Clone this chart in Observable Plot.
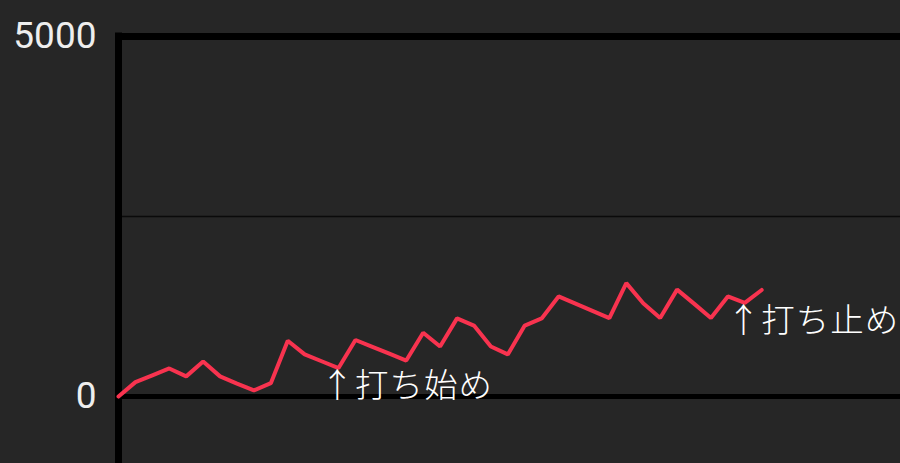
<!DOCTYPE html>
<html>
<head>
<meta charset="utf-8">
<script src="https://cdn.jsdelivr.net/npm/d3@7"></script>
<script src="https://cdn.jsdelivr.net/npm/@observablehq/plot@0.6"></script>
<style>
  html, body { margin: 0; padding: 0; background: #262626; }
  #chart { width: 900px; height: 463px; overflow: hidden; }
  g[aria-label="text"] text { letter-spacing: 1px; }
</style>
</head>
<body>
<div id="chart"></div>
<script>
// Series values (one per step)
const values = [0, 200, 295, 390, 280, 485, 280, 180, 85, 185,
  775, 585, 490, 395, 785, 690, 595, 500, 885, 695,
  1085, 985, 695, 585, 985, 1085, 1390, 1290, 1190, 1090,
  1575, 1295, 1090, 1485, 1290, 1090, 1390, 1300, 1480];
const yTicks = [0, 5000];
const gridValues = [2500];
const noteTexts = ["↑打ち始め", "↑打ち止め"];
const noteSteps = [13, 37];

const data = values.map((v, i) => ({step: i, value: v}));
const notes = noteTexts.map((t, k) => ({text: t, step: noteSteps[k], value: values[noteSteps[k]]}));

const chart = Plot.plot({
  width: 900,
  height: 463,
  marginTop: 36,
  marginBottom: 0,
  marginLeft: 118,
  marginRight: 0,
  style: {background: "#262626", color: "#eeeeee", fontFamily: "Roboto, sans-serif", overflow: "hidden"},
  x: {domain: [0, 46.2], axis: null},
  y: {domain: [-930, 5000]},
  marks: [
    Plot.ruleY(gridValues, {stroke: "#0a0a0a", strokeWidth: 1.5}),
    Plot.ruleY([0], {stroke: "#000", strokeWidth: 5}),
    Plot.ruleY([5000], {stroke: "#000", strokeWidth: 7}),
    Plot.ruleX([0], {stroke: "#000", strokeWidth: 7, strokeLinecap: "square"}),
    Plot.axisY({ticks: yTicks, tickFormat: "d", tickSize: 0, tickPadding: 22, fontSize: 37, fill: "#eeeeee", label: null}),
    Plot.line(data, {x: "step", y: "value", stroke: "#f8334f", strokeWidth: 4, strokeLinejoin: "miter"}),
    Plot.text(notes, {x: "step", y: "value", text: "text", textAnchor: "start", lineAnchor: "middle",
      dx: -18, dy: 18, fontSize: 33.5, fill: "#ffffff", fontFamily: "'Noto Sans CJK JP', sans-serif", fontWeight: 300})
  ]
});
document.getElementById("chart").appendChild(chart);
</script>
</body>
</html>
